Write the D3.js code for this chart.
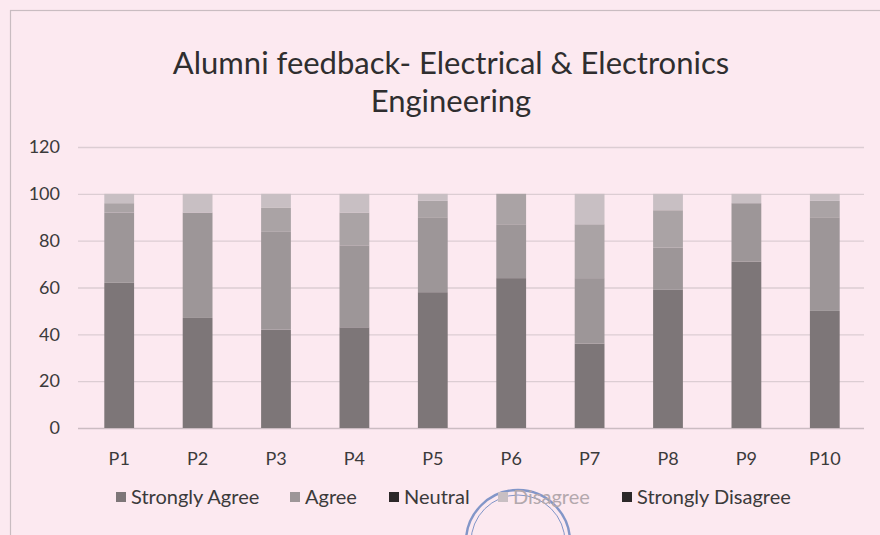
<!DOCTYPE html>
<html>
<head>
<meta charset="utf-8">
<script src="https://cdn.jsdelivr.net/npm/d3@7"></script>
<style>
  html, body { margin: 0; padding: 0; background: #fce9f0; }
  svg { display: block; }
  text { font-family: Lato, "Open Sans", sans-serif; }
</style>
</head>
<body>
<svg id="chart" width="880" height="535"></svg>
<script>
// Survey parameters and response shares (%)
const categories = ["P1", "P2", "P3", "P4", "P5", "P6", "P7", "P8", "P9", "P10"];
const seriesNames = ["Strongly Agree", "Agree", "Neutral", "Disagree", "Strongly Disagree"];
const stronglyAgree    = [62, 47, 42, 43, 58, 64, 36, 59, 71, 50];
const agree            = [30, 45, 42, 35, 32, 23, 28, 18, 25, 40];
const neutral          = [4, 0, 10, 14, 7, 13, 23, 16, 0, 7];
const disagree         = [4, 8, 6, 8, 3, 0, 13, 7, 4, 3];
const stronglyDisagree = [0, 0, 0, 0, 0, 0, 0, 0, 0, 0];
const yTicks = [0, 20, 40, 60, 80, 100, 120];
const titleLines = ["Alumni feedback- Electrical & Electronics", "Engineering"];

const seriesColors = ["#7d7678", "#9d9698", "#aaa3a5", "#c8bfc3", "#3a3537"];
const legendSwatch = ["#7d7678", "#9d9698", "#2c2829", "#c8bfc3", "#2c2829"];

const rows = categories.map((c, i) => ({
  cat: c,
  "Strongly Agree": stronglyAgree[i],
  "Agree": agree[i],
  "Neutral": neutral[i],
  "Disagree": disagree[i],
  "Strongly Disagree": stronglyDisagree[i]
}));

const svg = d3.select("#chart");
const textColor = "#3b3a3b";

// chart frame
svg.append("rect")
  .attr("x", 10.5).attr("y", 10.5)
  .attr("width", 900).attr("height", 600)
  .attr("fill", "none")
  .attr("stroke", "#c9bcc1")
  .attr("stroke-width", 1.2);

// title
svg.append("g").selectAll("text")
  .data(titleLines)
  .join("text")
  .attr("x", 451)
  .attr("y", (d, i) => 74 + i * 38)
  .attr("text-anchor", "middle")
  .attr("font-size", 31)
  .attr("fill", "#2f2e2f")
  .text(d => d);

const x = d3.scaleBand()
  .domain(categories)
  .range([80, 864])
  .paddingInner(0.62)
  .paddingOuter(0.31);

const y = d3.scaleLinear()
  .domain([0, 120])
  .range([428, 147]);

// gridlines + y labels
const yAxis = d3.axisLeft(y)
  .tickValues(yTicks)
  .tickSize(-(864 - 78))
  .tickPadding(18);

const gy = svg.append("g")
  .attr("transform", "translate(78,0)")
  .call(yAxis);
gy.select(".domain").remove();
gy.selectAll(".tick line")
  .attr("stroke", d => d === 0 ? "#cbbcc2" : "#dccdd3")
  .attr("stroke-width", 1.3);
gy.selectAll(".tick text")
  .attr("font-size", 18)
  .attr("fill", textColor)
  .attr("font-family", "Lato, sans-serif");

// x labels
const xAxis = d3.axisBottom(x).tickSize(0).tickPadding(24);
const gx = svg.append("g")
  .attr("transform", "translate(0,428)")
  .call(xAxis);
gx.select(".domain").remove();
gx.selectAll(".tick text")
  .attr("font-size", 18)
  .attr("fill", textColor)
  .attr("font-family", "Lato, sans-serif");

// stacked bars
const stacked = d3.stack().keys(seriesNames)(rows);
svg.append("g").selectAll("g")
  .data(stacked)
  .join("g")
  .attr("fill", (d, i) => seriesColors[i])
  .selectAll("rect")
  .data(d => d)
  .join("rect")
  .attr("x", d => x(d.data.cat))
  .attr("width", x.bandwidth())
  .attr("y", d => y(d[1]))
  .attr("height", d => y(d[0]) - y(d[1]));

// ink stamp along the lower edge
const stamp = svg.append("g").attr("transform", "translate(518,542)")
  .attr("fill", "none").attr("stroke", "#4f73b8").attr("opacity", 0.7);
stamp.append("circle").attr("r", 52).attr("stroke-width", 2.4);
stamp.append("circle").attr("r", 47).attr("stroke-width", 1);

// legend
const legendX = [116, 290, 389, 498, 622];
const legend = svg.append("g").selectAll("g")
  .data(seriesNames)
  .join("g")
  .attr("transform", (d, i) => `translate(${legendX[i]},497)`);
legend.append("rect")
  .attr("x", 0).attr("y", -5)
  .attr("width", 10).attr("height", 10)
  .attr("fill", (d, i) => legendSwatch[i]);
legend.append("text")
  .attr("x", 15)
  .attr("y", 7)
  .attr("font-size", 20)
  .attr("fill", (d, i) => i === 3 ? "#b3a8ad" : textColor)
  .text(d => d);
</script>
</body>
</html>
